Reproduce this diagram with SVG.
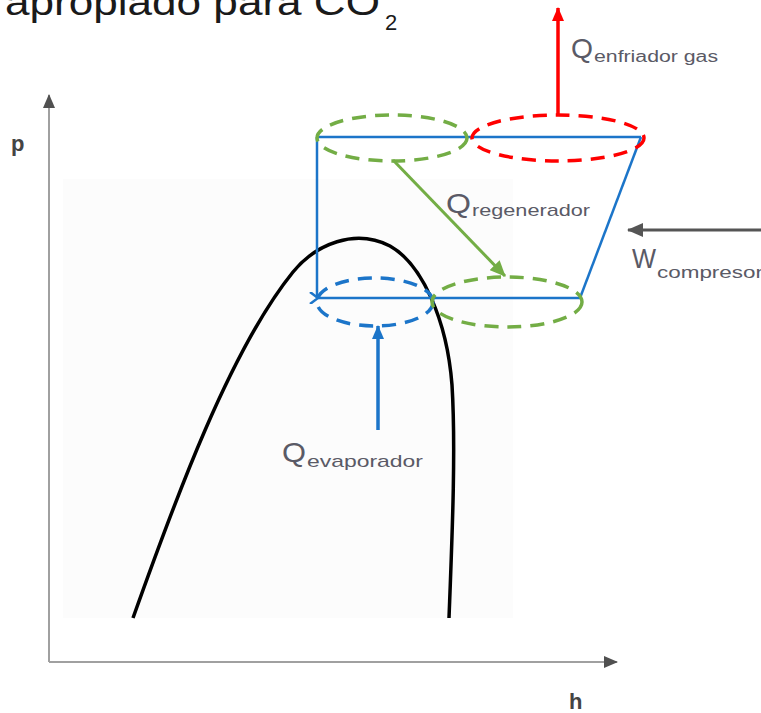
<svg xmlns="http://www.w3.org/2000/svg" width="761" height="713" viewBox="0 0 761 713">
<defs>
<style>
.lbl{font-family:"Liberation Sans","DejaVu Sans",sans-serif;fill:#5a5a66}
.axl{font-family:"Liberation Sans","DejaVu Sans",sans-serif;font-weight:bold;font-size:22px;fill:#444}
.ell{fill:none;stroke-width:3.5;stroke-dasharray:14 9}
.cyc{fill:none;stroke:#1c75c9;stroke-width:2.5}
</style>
<marker id="axArr" markerUnits="userSpaceOnUse" markerWidth="14" markerHeight="12" refX="13" refY="6" orient="auto"><path d="M0,0 L14,6 L0,12 z" fill="#505050"/></marker>
<marker id="redArr" markerUnits="userSpaceOnUse" markerWidth="14" markerHeight="12" refX="13" refY="6" orient="auto"><path d="M0,0 L14,6 L0,12 z" fill="#ff0000"/></marker>
<marker id="grnArr" markerUnits="userSpaceOnUse" markerWidth="16" markerHeight="14" refX="15" refY="7" orient="auto"><path d="M0,0 L16,7 L0,14 z" fill="#73ad45"/></marker>
<marker id="bluArr" markerUnits="userSpaceOnUse" markerWidth="14" markerHeight="12" refX="13" refY="6" orient="auto"><path d="M0,0 L14,6 L0,12 z" fill="#1c75c9"/></marker>
<marker id="gryArr" markerUnits="userSpaceOnUse" markerWidth="16" markerHeight="14" refX="15" refY="7" orient="auto"><path d="M0,0 L16,7 L0,14 z" fill="#555"/></marker>
<marker id="cycArr" markerUnits="userSpaceOnUse" markerWidth="10" markerHeight="12" refX="1" refY="6" orient="auto"><path d="M9,0 L1,6 L9,12" fill="none" stroke="#1c75c9" stroke-width="2.5"/></marker>
</defs>
<rect width="761" height="713" fill="#ffffff"/>
<rect x="63" y="179" width="450" height="439" fill="#fcfcfc"/>

<g id="title">
<text x="5" y="15" font-family="'Liberation Sans','DejaVu Sans',sans-serif" font-size="36" fill="#1a1a1a" textLength="375" lengthAdjust="spacingAndGlyphs">apropiado para CO</text>
<text x="385" y="30" font-family="'Liberation Sans','DejaVu Sans',sans-serif" font-size="22" fill="#1a1a1a">2</text>
</g>

<g id="axes">
<line x1="49" y1="662" x2="49" y2="95" stroke="#a0a0a0" stroke-width="2" marker-end="url(#axArr)"/>
<line x1="49" y1="662" x2="617" y2="662" stroke="#a0a0a0" stroke-width="2" marker-end="url(#axArr)"/>
<text class="axl" x="11" y="151">p</text>
<text class="axl" x="569" y="709">h</text>
</g>

<g id="saturation-curve">
<path d="M133,618 C175,500 230,350 293,272 C316,244 355,228 390,246 C422,264 447,320 452,385 C456,450 452,540 449,618" fill="none" stroke="#000" stroke-width="3.5"/>
</g>

<g id="cycle">
<line class="cyc" x1="317" y1="137" x2="641" y2="137"/>
<line class="cyc" x1="317" y1="137" x2="317" y2="298"/>
<line class="cyc" x1="580" y1="298" x2="641" y2="137"/>
<line class="cyc" x1="580" y1="298" x2="318" y2="298" marker-end="url(#cycArr)"/>
</g>

<g id="regenerador-alta">
<ellipse class="ell" cx="392" cy="138" rx="75" ry="23" stroke="#73ad45"/>
</g>
<g id="enfriador-gas">
<ellipse class="ell" cx="558" cy="138" rx="86" ry="23" stroke="#ff0000"/>
</g>
<g id="evaporador">
<ellipse class="ell" cx="375" cy="302" rx="58" ry="24" stroke="#1c75c9"/>
</g>
<g id="regenerador-baja">
<ellipse class="ell" cx="507" cy="302" rx="75" ry="25" stroke="#73ad45"/>
</g>

<g id="connectors">
<line x1="558" y1="115" x2="558" y2="8" stroke="#ff0000" stroke-width="3.5" marker-end="url(#redArr)"/>
<line x1="393" y1="160" x2="505" y2="276" stroke="#73ad45" stroke-width="3" marker-end="url(#grnArr)"/>
<line x1="378" y1="430" x2="378" y2="326" stroke="#1c75c9" stroke-width="3.5" marker-end="url(#bluArr)"/>
<line x1="761" y1="230" x2="628" y2="230" stroke="#555" stroke-width="3" marker-end="url(#gryArr)"/>
</g>

<g id="label-enfriador">
<text class="lbl" x="571" y="58" font-size="28" textLength="22" lengthAdjust="spacingAndGlyphs">Q</text>
<text class="lbl" x="594" y="62" font-size="16" textLength="124" lengthAdjust="spacingAndGlyphs">enfriador gas</text>
</g>
<g id="label-regenerador">
<text class="lbl" x="446" y="213" font-size="28" textLength="25" lengthAdjust="spacingAndGlyphs">Q</text>
<text class="lbl" x="472" y="216" font-size="17" textLength="118" lengthAdjust="spacingAndGlyphs">regenerador</text>
</g>
<g id="label-compresor">
<text class="lbl" x="632" y="268" font-size="28" textLength="24" lengthAdjust="spacingAndGlyphs">W</text>
<text class="lbl" x="657" y="278" font-size="17" textLength="106" lengthAdjust="spacingAndGlyphs">compresor</text>
</g>
<g id="label-evaporador">
<text class="lbl" x="282" y="462" font-size="28" textLength="24" lengthAdjust="spacingAndGlyphs">Q</text>
<text class="lbl" x="307" y="467" font-size="17" textLength="116" lengthAdjust="spacingAndGlyphs">evaporador</text>
</g>
</svg>
